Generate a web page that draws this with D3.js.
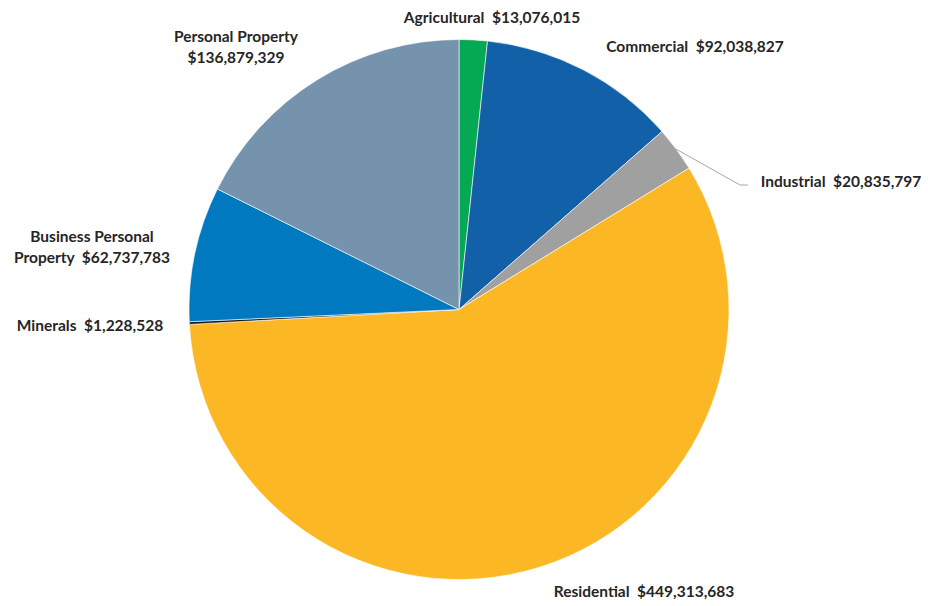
<!DOCTYPE html>
<html><head><meta charset="utf-8">
<script src="https://cdn.jsdelivr.net/npm/d3@7"></script>
<style>body{margin:0;background:#fff}svg{display:block}text{font-family:Lato,"Open Sans",sans-serif;font-weight:700;fill:#262626;white-space:pre}</style>
</head><body><svg id="c" width="928" height="606"></svg>
<script>
const categories = ["Agricultural","Commercial","Industrial","Residential","Minerals","Business Personal Property","Personal Property"];
const values = [13076015, 92038827, 20835797, 449313683, 1228528, 62737783, 136879329];
const colors = ["#05A853","#1260A8","#A0A0A0","#FBB824","#1A1A1A","#0079C1","#7593AD"];
// label lines (text lines per slice)
const labelLines = [
  ["Agricultural  $13,076,015"],
  ["Commercial  $92,038,827"],
  ["Industrial  $20,835,797"],
  ["Residential  $449,313,683"],
  ["Minerals  $1,228,528"],
  ["Business Personal","Property  $62,737,783"],
  ["Personal Property","$136,879,329"]
];
// layout: label anchor positions (baseline of last line)
const labelPos = [[492,23],[695,52],[841,187],[644,597],[90,331],[92,263],[236,63]];

const svg = d3.select("#c");
const cx = 459, cy = 309.5, R = 270;
const g = svg.append("g").attr("transform", `translate(${cx},${cy})`);
const pie = d3.pie().sort(null).value(d => d)(values);
const arc = d3.arc().innerRadius(0).outerRadius(R);
g.selectAll("path").data(pie).join("path")
  .attr("d", arc).attr("fill", (d,i) => colors[i])
  .attr("stroke", "#fff").attr("stroke-width", 0.6);

// leader line for Industrial
const ind = pie[2];
const a = (ind.startAngle + ind.endAngle)/2;
const p0 = [cx + R*Math.sin(a), cy - R*Math.cos(a)];
svg.append("polyline")
  .attr("points", [p0, [740,185], [748,185]].map(p=>p.join(",")).join(" "))
  .attr("fill","none").attr("stroke","#A6A6A6").attr("stroke-width",1);

labelLines.forEach((lines, i) => {
  const t = svg.append("text").attr("text-anchor", "middle")
    .attr("x", labelPos[i][0]).attr("y", labelPos[i][1])
    .attr("font-size", 15.5);
  lines.forEach((l, j) => {
    t.append("tspan").attr("x", labelPos[i][0]).attr("dy", j === 0 ? (-(lines.length-1)*21) + "px" : "21px").text(l);
  });
});
</script></body></html>
